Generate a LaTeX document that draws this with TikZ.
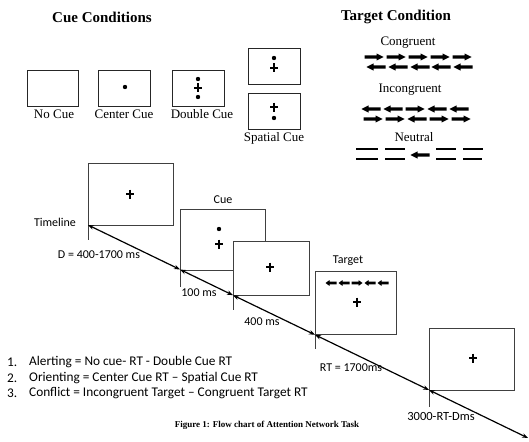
\documentclass[tikz,border=0pt]{standalone}
\usepackage{fontspec}
\setmainfont{Liberation Serif}
\newfontfamily\calfont{Carlito}
\usetikzlibrary{arrows.meta}
\tikzset{
  head/.style={font=\bfseries\fontsize{15}{18}\selectfont, inner sep=0pt},
  slab/.style={font=\fontsize{13}{15}\selectfont, inner sep=0pt},
  tlab/.style={font=\calfont\fontsize{12}{14}\selectfont, inner sep=0pt},
  flab/.style={font=\calfont\fontsize{13.3}{15}\selectfont, inner sep=0pt, anchor=west},
  frame/.style={draw=black!85, line width=0.9pt, fill=white},
  tframe/.style={draw=black!75, line width=0.9pt, fill=white},
  crossmark/.style={line width=2.6pt},
  tl/.style={line width=1.2pt, {Stealth[length=6pt,width=4.5pt]}-{Stealth[length=6pt,width=4.5pt]}},
  barrow/.pic={\fill (-9.5,-1.7) -- (2.5,-1.7) -- (2.5,-3.6) -- (9.5,0) -- (2.5,3.6) -- (2.5,1.7) -- (-9.5,1.7) -- cycle;},
  sarrow/.pic={\fill (-5.5,-1.4) -- (1.5,-1.4) -- (1.5,-2.9) -- (5.5,0) -- (1.5,2.9) -- (1.5,1.4) -- (-5.5,1.4) -- cycle;},
}
\newcommand{\pluss}[2]{\draw[crossmark] (#1-4,#2) -- (#1+4,#2) (#1,#2-4.5) -- (#1,#2+4.5);}
\newcommand{\dott}[2]{\fill (#1,#2) circle (2.2);}
\begin{document}
\begin{tikzpicture}[x=1pt,y=-1pt]
\useasboundingbox[fill=white] (0,0) rectangle (529,441);

% headings
\node[head] (hcue) at (102,17) {Cue Conditions};
\node[head] (htar) at (396,17) {Target Condition};

% cue condition boxes
\draw[frame] (27,70) rectangle (78,106);
\draw[frame] (98,70) rectangle (150,106);
\dott{125}{87}
\draw[frame] (172,70) rectangle (224,106);
\dott{198}{79}\pluss{198}{88}\dott{198}{97}
\draw[frame] (248,48) rectangle (300,84);
\dott{274}{58}\pluss{274}{68}
\draw[frame] (248,93) rectangle (300,129);
\pluss{274}{107}\dott{274}{118}

\node[slab] (lno) at (54,114) {No Cue};
\node[slab] (lcen) at (124,114) {Center Cue};
\node[slab] (ldbl) at (202,114) {Double Cue};
\node[slab] (lspa) at (274,138) {Spatial Cue};

% target conditions
\node[slab] (lcon) at (408,43) {Congruent};
\foreach \x in {374,396,418,440,462} \pic at (\x,57) {barrow};
\foreach \x in {376,398,420,441,463} \pic[xscale=-1] at (\x,67) {barrow};

\node[slab] (linc) at (410,90) {Incongruent};
\pic[xscale=-1] at (371,109) {barrow};
\pic[xscale=-1] at (393,109) {barrow};
\pic at (415,109) {barrow};
\pic[xscale=-1] at (437,109) {barrow};
\pic[xscale=-1] at (459,109) {barrow};
\pic at (373,119) {barrow};
\pic at (395,119) {barrow};
\pic[xscale=-1] at (417,119) {barrow};
\pic at (439,119) {barrow};
\pic at (461,119) {barrow};

\node[slab] (lneu) at (414,137) {Neutral};
\draw[line width=1.1pt] (356,149) -- (378,149) (385,149) -- (405,149) (436,149) -- (456,149) (463,149) -- (483,149);
\draw[line width=1.1pt] (356,159) -- (378,159) (385,159) -- (405,159) (436,159) -- (456,159) (463,159) -- (482,159);
\pic[xscale=-1] at (420,155) {barrow};

% timeline boxes
\draw[tframe] (88,163) rectangle (173,225);
\pluss{130}{194}
\draw[tframe] (180,209) rectangle (265,270);
\dott{219}{229}\pluss{219}{244}
\draw[tframe] (233,241) rectangle (309,295);
\pluss{270}{267}
\draw[tframe] (315,271) rectangle (396,334);
\foreach \x in {331,344} \pic[xscale=-1] at (\x,283) {sarrow};
\pic at (357,283) {sarrow};
\foreach \x in {370,383} \pic[xscale=-1] at (\x,283) {sarrow};
\pluss{357}{302}
\draw[tframe] (429,328) rectangle (514,390);
\pluss{473}{358}

% ticks
\draw[tframe] (88,225) -- (88,240);
\draw[tframe] (180,270) -- (180,287);
\draw[tframe] (233,295) -- (233,310);
\draw[tframe] (315,334) -- (315,349);
\draw[tframe] (429,390) -- (429,407);

% timeline
\coordinate (t0) at (88,225);
\coordinate (t1) at (180,269.5);
\coordinate (t2) at (233,295.2);
\coordinate (t3) at (315,334.8);
\coordinate (t4) at (429,390);
\coordinate (t5) at (528,438);
\draw[tl] (t0) -- (t1);
\draw[tl] (t1) -- (t2);
\draw[tl] (t2) -- (t3);
\draw[tl] (t3) -- (t4);
\draw[tl] (t4) -- (t5);

% timeline labels
\node[tlab] (ltime) at (55,222) {Timeline};
\node[tlab] (ld) at (99,255) {D = 400-1700 ms};
\node[tlab] (lcue) at (223,200) {Cue};
\node[tlab] (l100) at (199,293) {100 ms};
\node[tlab] (l400) at (262,322) {400 ms};
\node[tlab] (ltar) at (348,261) {Target};
\node[tlab] (lrt) at (351,368) {RT = 1700ms};
\node[tlab, font=\calfont\fontsize{12.5}{14}\selectfont] (l3000) at (441,416) {3000-RT-Dms};

% formulas
\node[flab] (n1) at (7,362) {1.};
\node[flab] (f1) at (29,362) {Alerting = No cue- RT - Double Cue RT};
\node[flab] (n2) at (7,378) {2.};
\node[flab] (f2) at (29,378) {Orienting = Center Cue RT – Spatial Cue RT};
\node[flab] (n3) at (7,393) {3.};
\node[flab] (f3) at (29,393) {Conflict = Incongruent Target – Congruent Target RT};

% caption
\node[font=\bfseries\fontsize{9}{11}\selectfont, inner sep=0pt] (cap) at (267,425) {Figure 1: Flow chart of Attention Network Task};
\end{tikzpicture}
\end{document}
